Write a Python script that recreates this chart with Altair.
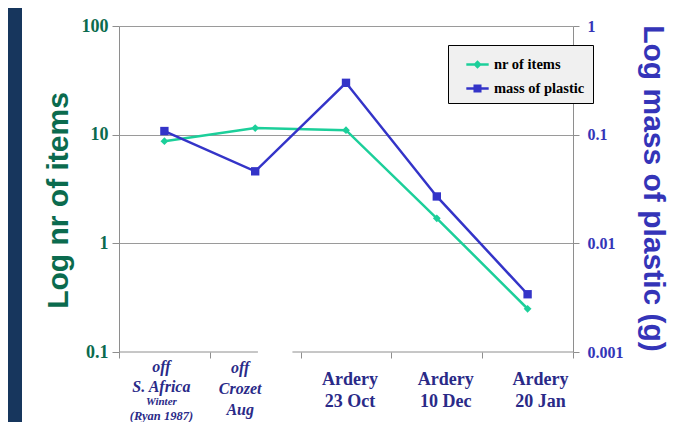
import altair as alt
import pandas as pd

# ---------------- data ----------------
category_lines = [
    ["off", "S. Africa", "Winter", "(Ryan 1987)"],
    ["off", "Crozet", "Aug"],
    ["Ardery", "23 Oct"],
    ["Ardery", "10 Dec"],
    ["Ardery", "20 Jan"],
]
category_index = [0, 1, 2, 3, 4]
nr_items = [8.7, 11.5, 11.0, 1.7, 0.25]
mass_plastic = [0.108, 0.046, 0.30, 0.027, 0.0034]
series_names = ["nr of items", "mass of plastic"]
left_ticks = [0.1, 1, 10, 100]
right_ticks = [0.001, 0.01, 0.1, 1]
category_bounds = [-0.5, 0.5, 1.5, 2.5, 3.5, 4.5]
axis_seg_start = [-0.5, 1.41]   # category axis line is broken
axis_seg_end = [1.03, 4.5]

# ---------------- styles ----------------
GREEN = "#1ccf9a"
BLUE = "#3434c8"
GREEN_TXT = "#0b6b4e"
BLUE_TXT = "#3434b8"
NAVY_TXT = "#2a2a88"
GRAY = "#8e8e8e"
NAVY_BG = "#17365d"
SERIF = "Liberation Serif"
SANS = "Liberation Sans"
W, H = 454, 326

label_dx = [-3, -15, 4, 9, 13]
line_offsets = [[15, 35, 50, 64], [16, 37, 58], [28, 50], [28, 50], [28, 50]]
line_sizes = [[16, 16, 11, 12.5], [16, 16, 16], [18, 18], [18, 18], [18, 18]]
italic_cols = [True, True, False, False, False]

df = pd.DataFrame({"idx": category_index, "items": nr_items, "mass": mass_plastic})
seg_df = pd.DataFrame({"s": axis_seg_start, "e": axis_seg_end})


def xenc(field):
    return alt.X(
        f"{field}:Q",
        scale=alt.Scale(domain=[-0.5, 4.5], nice=False, zero=False),
        axis=alt.Axis(values=category_bounds, labels=False, domain=False, grid=False,
                      ticks=True, tickColor=GRAY, tickSize=6, title=None),
    )


left_axis = alt.Axis(
    values=left_ticks, format="~g", orient="left",
    grid=True, gridColor="#9a9a9a",
    gridOpacity={"condition": {"test": "datum.value < 0.5", "value": 0}, "value": 1},
    domainColor=GRAY, tickColor=GRAY, tickSize=7,
    labelFont=SERIF, labelFontWeight="bold", labelFontSize=18, labelColor=GREEN_TXT,
    labelPadding=4,
    title="Log nr of items", titleFont=SANS, titleFontSize=30, titleFontWeight="bold",
    titleColor=GREEN_TXT, titleAngle=-90, titleX=-61, titleY=174,
    titleAlign="center", titleBaseline="middle",
)
right_axis = alt.Axis(
    values=right_ticks, format="~g", orient="right", grid=False,
    domainColor=GRAY, tickColor=GRAY, tickSize=6,
    labelFont=SERIF, labelFontWeight="bold", labelFontSize=16, labelColor=BLUE_TXT,
    labelPadding=8,
    title="Log mass of plastic (g)", titleFont=SANS, titleFontSize=30, titleFontWeight="bold",
    titleColor=BLUE_TXT, titleAngle=90, titleX=79, titleY=162,
    titleAlign="center", titleBaseline="middle",
)

y_left = alt.Y("items:Q", scale=alt.Scale(type="log", domain=[0.1, 100], nice=False), axis=left_axis)
y_right = alt.Y("mass:Q", scale=alt.Scale(type="log", domain=[0.001, 1], nice=False), axis=right_axis)

base = alt.Chart(df)

items_line = base.mark_line(color=GREEN, strokeWidth=2.5).encode(x=xenc("idx"), y=y_left)
items_pts = base.mark_point(shape="diamond", filled=True, size=60, color=GREEN, opacity=1).encode(
    x=xenc("idx"), y=y_left)

axis_line = alt.Chart(seg_df).mark_rule(color=GRAY, strokeWidth=1).encode(
    x=xenc("s"), x2="e:Q", y=alt.value(H))

navy = alt.Chart(pd.DataFrame({"a": [0]})).mark_rect(color=NAVY_BG).encode(
    x=alt.value(-111), x2=alt.value(-97), y=alt.value(-18), y2=alt.value(H + 70))

legend_paths = [
    "M-1,-0.12H1V0.12H-1ZM0,-0.38L0.38,0L0,0.38L-0.38,0Z",
    "M-1,-0.12H1V0.12H-1ZM-0.36,-0.36H0.36V0.36H-0.36Z",
]
leg = alt.Legend(orient="none", legendX=329, legendY=19, title=None,
                 fillColor="#f0f0f0", strokeColor="black", padding=8,
                 labelFont=SERIF, labelFontWeight="bold", labelFontSize=14.5, labelColor="black",
                 symbolSize=500, symbolStrokeWidth=0, rowPadding=6, symbolOffset=10, labelOffset=5)
legend_layer = alt.Chart(pd.DataFrame({"series": series_names})).transform_filter("false").mark_point(
    filled=True, opacity=1, strokeWidth=0).encode(
    color=alt.Color("series:N", scale=alt.Scale(domain=series_names, range=[GREEN, BLUE]), legend=leg),
    shape=alt.Shape("series:N", scale=alt.Scale(domain=series_names, range=legend_paths), legend=leg),
)

text_layers = []
for c, lines in enumerate(category_lines):
    for j, txt in enumerate(lines):
        t = alt.Chart(pd.DataFrame({"idx": [category_index[c]], "label": [txt]})).mark_text(
            font=SERIF, fontWeight="bold", fontStyle="italic" if italic_cols[c] else "normal",
            fontSize=line_sizes[c][j], color=NAVY_TXT, baseline="middle", align="center",
            dx=label_dx[c],
        ).encode(x=xenc("idx"), y=alt.value(H + line_offsets[c][j]), text="label:N")
        text_layers.append(t)

left_group = alt.layer(navy, axis_line, items_line, items_pts, legend_layer, *text_layers)

mass_line = base.mark_line(color=BLUE, strokeWidth=2.5).encode(x=xenc("idx"), y=y_right)
mass_pts = base.mark_point(shape="square", filled=True, size=70, color=BLUE, opacity=1).encode(
    x=xenc("idx"), y=y_right)
right_group = alt.layer(mass_line, mass_pts)

chart = alt.layer(left_group, right_group).resolve_scale(y="independent").properties(
    width=W, height=H,
    autosize=alt.AutoSizeParams(type="none"),
    padding={"left": 111, "top": 18, "right": 99, "bottom": 70},
    background="white",
).configure_view(stroke=None)

chart.save("out.html", embed_options={"renderer": "svg", "actions": False})
